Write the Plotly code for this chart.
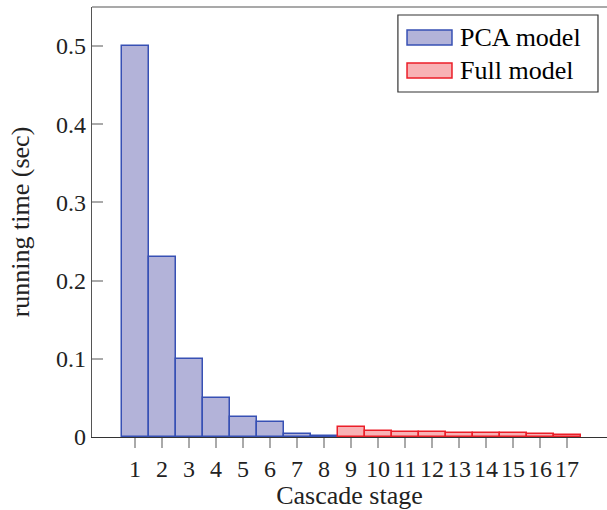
import plotly.graph_objects as go

pca_stages = [1, 2, 3, 4, 5, 6, 7, 8]
pca_times = [0.5, 0.23, 0.1, 0.05, 0.025, 0.019, 0.0037, 0.0007]
full_stages = [9, 10, 11, 12, 13, 14, 15, 16, 17]
full_times = [0.013, 0.0074, 0.0066, 0.0058, 0.0054, 0.0052, 0.0045, 0.0036, 0.003]
series_names = ["PCA model", "Full model"]
x_ticks = list(range(1, 18))
y_ticks = [0, 0.1, 0.2, 0.3, 0.4, 0.5]
y_tick_text = ["0", "0.1", "0.2", "0.3", "0.4", "0.5"]

FONT = "Liberation Serif"
PCA_FILL, PCA_EDGE = "rgb(179,179,217)", "rgb(55,80,180)"
FULL_FILL, FULL_EDGE = "rgb(248,178,181)", "rgb(235,30,40)"

fig = go.Figure()
fig.add_trace(go.Bar(
    x=pca_stages, y=pca_times, width=1, name=series_names[0], showlegend=False,
    marker=dict(color=PCA_FILL, line=dict(color=PCA_EDGE, width=1.5)),
))
fig.add_trace(go.Bar(
    x=full_stages, y=full_times, width=1, name=series_names[1], showlegend=False,
    marker=dict(color=FULL_FILL, line=dict(color=FULL_EDGE, width=1.5)),
))

# manual legend (pgfplots style wide swatches)
shapes = [
    dict(type="line", xref="paper", yref="paper", x0=0, x1=1, y0=1, y1=1,
         line=dict(color="#555", width=1.2)),
    dict(type="rect", xref="paper", yref="paper", x0=0.594, x1=0.9825, y0=0.8023, y1=0.9814,
         line=dict(color="#333", width=1.2), fillcolor="white"),
    dict(type="rect", xref="paper", yref="paper", x0=0.6117, x1=0.699, y0=0.9116, y1=0.9465,
         line=dict(color=PCA_EDGE, width=1.5), fillcolor=PCA_FILL),
    dict(type="rect", xref="paper", yref="paper", x0=0.6117, x1=0.699, y0=0.8349, y1=0.8698,
         line=dict(color=FULL_EDGE, width=1.5), fillcolor=FULL_FILL),
]
annotations = [
    dict(xref="paper", yref="paper", x=0.7107, y=0.929, xanchor="left", yanchor="middle",
         text=series_names[0], showarrow=False, font=dict(family=FONT, size=26, color="black")),
    dict(xref="paper", yref="paper", x=0.7107, y=0.852, xanchor="left", yanchor="middle",
         text=series_names[1], showarrow=False, font=dict(family=FONT, size=26, color="black")),
]

fig.update_layout(
    width=607, height=510,
    margin=dict(l=92, r=0, t=7, b=73, autoexpand=False),
    plot_bgcolor="white", paper_bgcolor="white",
    font=dict(family=FONT, size=24, color="#222"),
    bargap=0,
    showlegend=False,
    xaxis=dict(
        range=[-0.593, 18.48], tickmode="array", tickvals=x_ticks,
        ticks="outside", ticklen=10, tickcolor="#aaa", tickwidth=1.5,
        showline=True, linecolor="#333", linewidth=1.2, mirror=False,
        showgrid=False, zeroline=False, automargin=False,
        title=dict(text="Cascade stage", standoff=0, font=dict(size=26)),
        tickfont=dict(size=24),
    ),
    yaxis=dict(
        range=[0, 0.55], tickmode="array", tickvals=y_ticks, ticktext=y_tick_text,
        ticks="inside", ticklen=11, tickcolor="#aaa", tickwidth=1.5,
        showline=True, linecolor="#555", linewidth=1.2, mirror=False,
        showgrid=False, zeroline=False, automargin=False,
        title=dict(text="running time (sec)", standoff=18, font=dict(size=26)),
        tickfont=dict(size=24),
    ),
    shapes=shapes,
    annotations=annotations,
)

fig.write_html("out.html", config={"displayModeBar": False},
               post_script="document.body.style.margin='0';")
